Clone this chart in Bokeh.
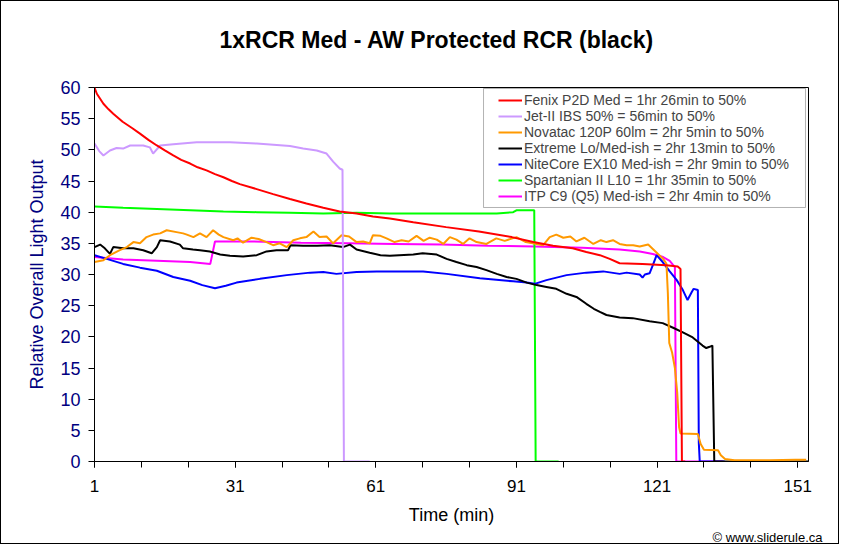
from bokeh.plotting import figure
from bokeh.models import Range1d, FixedTicker, Legend, LegendItem, BoxAnnotation, Title
from bokeh.embed import file_html
from bokeh.resources import INLINE

FONT = "Liberation Sans"

chart_title = "1xRCR Med - AW Protected RCR (black)"
x_label = "Time (min)"
y_label = "Relative Overall Light Output"
credit = "\u00a9 www.sliderule.ca"
x_ticks = [1, 31, 61, 91, 121, 151]
x_minor_ticks = [1, 11, 21, 31, 41, 51, 61, 71, 81, 91, 101, 111, 121, 131, 141, 151]
y_ticks = [0, 5, 10, 15, 20, 25, 30, 35, 40, 45, 50, 55, 60]

names = [
    "Fenix P2D Med = 1hr 26min to 50%",
    "Jet-II IBS 50% = 56min to 50%",
    "Novatac 120P 60lm = 2hr 5min to 50%",
    "Extreme Lo/Med-ish = 2hr 13min to 50%",
    "NiteCore EX10 Med-ish = 2hr 9min to 50%",
    "Spartanian II L10 = 1hr 35min to 50%",
    "ITP C9 (Q5) Med-ish = 2hr 4min to 50%",
]
colors = ["#FF0000", "#CC99FF", "#FF9900", "#000000", "#0000FF", "#00FF00", "#FF00FF"]

# (time in min, relative output)
fenix = [(1, 60), (1.5, 59), (2.2, 58.2), (2.9, 57.4), (4, 56.5), (5, 55.8), (7, 54.5), (9, 53.5),
         (10.7, 52.6), (12.5, 51.6), (14.3, 50.7), (16, 49.9), (17.8, 49.1), (19.5, 48.4), (21.4, 47.8),
         (23, 47.2), (24.9, 46.7), (26.7, 46.1), (28.5, 45.6), (30.3, 45.0), (32, 44.5), (35.6, 43.7),
         (39.1, 42.9), (42.7, 42.1), (46.2, 41.4), (49.8, 40.7), (53.3, 40.1), (56.9, 39.8), (60.4, 39.3),
         (64, 39.0), (69, 38.4), (76, 37.6), (83, 36.9), (90, 36.0), (94.6, 35.2), (98.8, 34.6),
         (103, 34.2), (105.9, 33.6), (108.8, 33.1), (110.9, 32.5), (113, 31.8), (117.9, 31.7),
         (123, 31.5), (125.4, 31.3), (126, 30.9), (126.3, 0), (127, 0)]

jet = [(1, 51), (2, 49.8), (2.9, 49.1), (4.3, 49.9), (5.7, 50.3), (7.1, 50.2), (8.6, 50.7), (11.4, 50.7),
       (12.8, 50.4), (13.5, 49.4), (15, 50.7), (17.8, 50.9), (22.8, 51.2), (29.9, 51.2), (35.6, 51.0),
       (42.7, 50.6), (45.5, 50.2), (48.4, 49.9), (50.5, 49.4), (51.9, 48.1), (53.3, 47.0), (53.9, 46.8),
       (54.2, 0), (59.7, 0)]

novatac = [(1, 32), (2.9, 32.3), (4.3, 33.1), (6.4, 33.9), (7.9, 34.4), (9.3, 35.2), (10.7, 35), (12.1, 36),
           (13.5, 36.4), (15, 36.6), (16.4, 37.1), (18.5, 36.8), (19.9, 36.6), (20.7, 36.4), (22.1, 36),
           (23.5, 36.6), (24.9, 36), (26.3, 37.1), (27.5, 36.4), (28.5, 36), (30.6, 35.5), (31.5, 35.8),
           (32.7, 35.1), (34.5, 35.9), (36, 35.7), (37.7, 35.2), (39.1, 34.7), (40.5, 35), (42, 34.4),
           (43.4, 35.5), (44.8, 35.8), (46.2, 36), (47.7, 36.9), (49, 36), (50.5, 36.1), (51.9, 35),
           (53.7, 36.3), (55.3, 36.1), (56.9, 35.2), (58.3, 35.3), (59.7, 35), (60.4, 36.3), (62, 36.2),
           (63.3, 35.8), (65, 35.2), (66.5, 35.5), (68, 35.3), (69.7, 36.2), (71.2, 35.4), (72.5, 35.9),
           (74, 35.6), (75.4, 34.9), (76.8, 36), (78.2, 35.6), (79.6, 34.9), (81, 35.8), (82.5, 35.2),
           (84.6, 34.9), (86.7, 35.8), (88.5, 35.4), (91, 36), (93, 35.2), (95.3, 34.9), (96.7, 34.7),
           (98.1, 36), (99.5, 36.4), (101, 35.9), (102.5, 36.1), (103.8, 35.3), (105.5, 35.9),
           (107.4, 34.9), (109, 35.5), (110.2, 35.2), (111.6, 35.5), (113, 34.9), (114.5, 34.7),
           (115.9, 34.7), (117.3, 34.5), (119.1, 34.8), (120.1, 34.1), (121.2, 33.3), (122.3, 32.5),
           (123, 31.7), (123.3, 27), (123.6, 19), (124.2, 17.5), (124.8, 15), (125.3, 11), (125.7, 5.5),
           (126, 4.5), (129.7, 4.4), (130.3, 2.8), (131, 1.9), (134, 1.8), (134.6, 1.0), (135.5, 0.4),
           (137.5, 0.2), (145, 0.2), (150.5, 0.3), (152.8, 0.3)]

extreme = [(1, 34.4), (2.2, 34.8), (3.2, 34.2), (4.3, 33.3), (5, 34.4), (7.1, 34.2), (9.3, 34.2),
           (11.4, 33.9), (13.2, 33.4), (14.3, 34.4), (15, 35.5), (17.1, 35.3), (19.2, 34.8), (19.9, 34.2),
           (22, 34.0), (23.5, 33.9), (25.6, 33.7), (27.8, 33.2), (29.9, 33.0), (32.7, 32.9), (35.6, 33.1),
           (37.7, 33.7), (39.8, 33.9), (42.3, 33.9), (42.8, 34.7), (45.5, 34.6), (48.5, 34.6), (51.2, 34.7),
           (54, 34.4), (55.5, 34.8), (56.9, 34.0), (59.7, 33.5), (62, 33.1), (64, 33.0), (66, 33.1),
           (69, 33.2), (71, 33.4), (74, 33.2), (76.1, 32.5), (78.2, 32.0), (80.4, 31.5), (82.5, 31.2),
           (84.6, 30.7), (86.8, 30.1), (88.9, 29.6), (91, 29.3), (93.2, 28.7), (95.3, 28.3), (97.4, 28.0),
           (99.5, 27.7), (101.7, 26.9), (103.8, 26.4), (105.9, 25.3), (107.5, 24.5), (108.8, 24.0),
           (110.2, 23.5), (113, 23.1), (115.8, 23.0), (119.4, 22.5), (122.2, 22.2), (124.3, 21.5),
           (126.5, 20.7), (128.6, 19.9), (130.7, 18.6), (131.5, 18.2), (132.2, 18.4), (132.8, 18.6),
           (133.2, 0), (153.3, 0)]

nitecore = [(1, 33.1), (3.6, 32.5), (7.1, 31.7), (10.7, 31.1), (14.3, 30.6), (17.8, 29.6), (21.4, 29.0),
            (24, 28.3), (26.7, 27.8), (29, 28.2), (31.3, 28.7), (36.3, 29.3), (42, 29.9), (47, 30.3),
            (49.8, 30.4), (52.6, 30.1), (56.9, 30.4), (61.2, 30.5), (66, 30.5), (71.1, 30.5), (76.1, 30.1),
            (83.2, 29.4), (90.3, 28.9), (93.2, 28.7), (94.9, 28.5), (97.4, 29.1), (101.7, 29.9),
            (105.9, 30.3), (109.5, 30.5), (113, 30.1), (114.5, 30.3), (117.3, 30.0), (117.9, 29.5),
            (118.4, 30.0), (119.4, 30.2), (120.1, 31.5), (120.9, 33.1), (122.2, 32.0), (123.7, 30.5),
            (125.2, 29.1), (126.5, 27.5), (127.5, 25.9), (128.4, 27.2), (128.8, 27.7), (129.7, 27.5),
            (129.9, 3), (130.1, 0), (135.4, 0)]

spartanian = [(1, 40.9), (7.1, 40.7), (14.3, 40.5), (21.4, 40.3), (28.5, 40.1), (35.6, 40.0), (42.7, 39.9),
              (49.8, 39.8), (56.9, 39.9), (64, 39.8), (76.1, 39.8), (86.8, 39.8), (90.3, 40.0), (91, 40.3),
              (94.8, 40.3), (95.1, 0), (100, 0)]

itp = [(1, 32.8), (7.1, 32.4), (14.3, 32.2), (21.4, 32.0), (25.7, 31.7), (26.7, 35.3), (35, 35.3),
       (45, 35.1), (55, 35.0), (65, 34.9), (75, 34.8), (85, 34.6), (95, 34.5), (105, 34.3), (113, 34.0),
       (117.3, 33.7), (120.1, 33.3), (122.3, 32.8), (123.7, 32.2), (124.8, 31.2), (125.1, 0), (135, 0)]

series = [fenix, jet, novatac, extreme, nitecore, spartanian, itp]

p = figure(width=839, height=544, output_backend="svg", toolbar_location=None,
           x_range=Range1d(1, 153.3), y_range=Range1d(0, 60),
           min_border_left=93, min_border_right=32, min_border_top=86, min_border_bottom=84,
           background_fill_color="white", border_fill_color="white")
p.styles = {"border": "1px solid black"}
p.outline_line_color = "black"
p.outline_line_width = 1
p.xgrid.grid_line_color = None
p.ygrid.grid_line_color = None

xa = p.xaxis[0]
xa.ticker = FixedTicker(ticks=x_ticks, minor_ticks=x_minor_ticks)
xa.axis_line_color = "black"
xa.major_tick_out = 6
xa.major_tick_in = 0
xa.minor_tick_out = 6
xa.minor_tick_in = 0
xa.minor_tick_line_color = "black"
xa.major_tick_line_color = "black"
xa.major_label_text_font = FONT
xa.major_label_text_font_size = "17px"
xa.major_label_text_color = "black"
xa.major_label_standoff = 12
xa.axis_label = x_label
xa.axis_label_text_font = FONT
xa.axis_label_text_font_size = "18px"
xa.axis_label_text_font_style = "normal"
xa.axis_label_text_color = "black"
xa.axis_label_standoff = 10

ya = p.yaxis[0]
ya.ticker = FixedTicker(ticks=y_ticks)
ya.axis_line_color = "black"
ya.major_tick_out = 6
ya.major_tick_in = 0
ya.minor_tick_line_color = None
ya.major_tick_line_color = "black"
ya.major_label_text_font = FONT
ya.major_label_text_font_size = "18px"
ya.major_label_text_color = "#000080"
ya.major_label_standoff = 8
ya.axis_label = y_label
ya.axis_label_text_font = FONT
ya.axis_label_text_font_size = "18px"
ya.axis_label_text_font_style = "normal"
ya.axis_label_text_color = "#000080"
ya.axis_label_standoff = 10

renderers = [None] * len(series)
for i in reversed(range(len(series))):
    ts = [pt[0] for pt in series[i]]
    vs = [pt[1] for pt in series[i]]
    renderers[i] = p.line(ts, vs, line_color=colors[i], line_width=2)

# legend frame
box = BoxAnnotation(left=83.98, right=152.66, top=59.84, bottom=40.75,
                    fill_color="white", fill_alpha=1.0, line_color="black", line_width=1)
p.add_layout(box)

legend = Legend(items=[LegendItem(label=names[i], renderers=[renderers[i]]) for i in range(len(names))],
                location=(401, 254), padding=3, spacing=0, margin=0,
                label_text_font=FONT, label_text_font_size="14px", label_height=16,
                glyph_width=24, glyph_height=16, label_standoff=2,
                border_line_alpha=0, background_fill_alpha=0)
p.add_layout(legend)

# empty spacer panel next to the plot frame, then the main title above it
p.add_layout(Title(text=" ", align="left", standoff=22,
                   text_font=FONT, text_font_size="10px", text_color="white"), "above")
p.add_layout(Title(text=chart_title, align="left", offset=125, standoff=0,
                   text_font=FONT, text_font_size="23px", text_font_style="bold",
                   text_color="black"), "above")
p.add_layout(Title(text=credit, align="right", offset=-14, standoff=0,
                   text_font=FONT, text_font_size="13px", text_font_style="normal",
                   text_color="black"), "below")

open("out.html", "w").write(file_html(p, INLINE))
